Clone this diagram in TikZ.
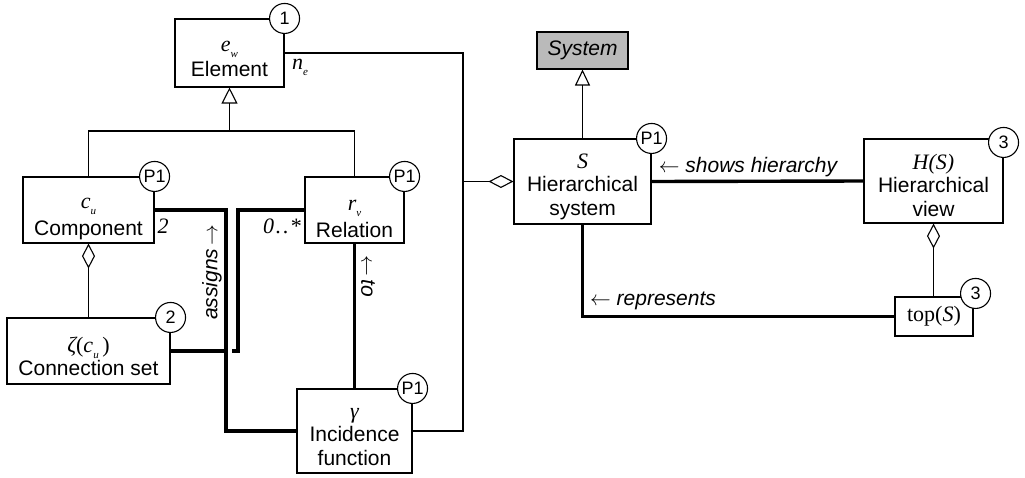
\documentclass[tikz,border=0pt]{standalone}
\usepackage{fontspec}
\setsansfont{Liberation Sans}
\newfontfamily\lserif{Liberation Serif}
\usetikzlibrary{arrows.meta}
\newcommand\vsub[2]{{\lserif\itshape\fontsize{22}{25}\selectfont #1}\raisebox{-6pt}{\lserif\itshape\fontsize{11}{11}\selectfont #2}}
\newcommand\vit[1]{{\lserif\itshape\fontsize{22}{25}\selectfont #1}}
\begin{document}
\begin{tikzpicture}[x=1pt,y=-1pt,
  box/.style={draw,line width=1.1pt,fill=white,inner sep=0pt},
  txt/.style={align=center,inner sep=0pt,font=\sffamily\fontsize{21}{24}\selectfont},
  badge/.style={draw,circle,line width=1.1pt,fill=white,minimum size=30pt,inner sep=0pt,
    font=\sffamily\fontsize{18}{18}\selectfont},
  thinl/.style={line width=1.1pt},
  thickl/.style={line width=3.4pt},
  lbl/.style={font=\sffamily\itshape\fontsize{21}{25}\selectfont,inner sep=0pt},
  mult/.style={font=\lserif\itshape\fontsize{22}{25}\selectfont,inner sep=0pt},
  gen/.style={-{Triangle[open,length=16pt,width=16pt]}},
  agg/.style={{Diamond[open,length=25pt,width=13pt]}-}
]
\useasboundingbox (0,0) rectangle (1025,477);

% boxes
\node[box,minimum width=109pt,minimum height=68pt] (El) at (229.5,53) {};
\node[box,minimum width=131pt,minimum height=66pt] (Co) at (88.5,210) {};
\node[box,minimum width=99pt,minimum height=66pt] (Re) at (354.5,210) {};
\node[box,minimum width=163pt,minimum height=66pt] (Cs) at (88.5,351) {};
\node[box,minimum width=115pt,minimum height=84pt] (In) at (354.5,431) {};
\node[box,fill=black!27,minimum width=91pt,minimum height=37pt] (Sy) at (582.5,50.5) {};
\node[box,minimum width=137pt,minimum height=85pt] (HS) at (582.5,181.5) {};
\node[box,minimum width=139pt,minimum height=84pt] (HV) at (933.5,181) {};
\node[box,minimum width=78pt,minimum height=39pt] (Tp) at (934,316.5) {};

% box texts
\node[txt] (Elt) at ([yshift=-6pt]El.center) {\vsub{e}{w}\\[1pt]Element};
\node[txt] (Cot) at ([yshift=-9pt]Co.center) {\vsub{c}{u}\\[3pt]Component};
\node[txt] (Ret) at ([yshift=-9pt]Re.center) {\vsub{r}{v}\\[3pt]Relation};
\node[txt] (Cst) at ([yshift=-5pt]Cs.center) {\vit{ζ}{\lserif\fontsize{22}{25}\selectfont(}\vsub{c}{u}{\lserif\fontsize{22}{25}\selectfont\,)}\\[-1pt]Connection set};
\node[txt] (Int) at ([yshift=-6pt]In.center) {\vit{γ}\\[-1pt]Incidence\\function};
\node[txt] (Syt) at (Sy.center) {\itshape System};
\node[txt] (HSt) at ([yshift=-5.5pt]HS.center) {\vit{S}\\[-1pt]Hierarchical\\system};
\node[txt] (HVt) at ([yshift=-4pt]HV.center) {\vit{H(S)}\\[-1pt]Hierarchical\\view};
\node[txt,font=\lserif\fontsize{22}{25}\selectfont] (Tpt) at (Tp.center) {top(\textit{S})};

% generalisations
\coordinate (g) at (229.5,131);
\draw[thinl] (Co.north) |- (g) -| (Re.north);
\draw[thinl,gen] (g) -- (El.south);
\draw[thinl,-{Triangle[open,length=16pt,width=15pt]}] (HS.north) -- (Sy.south);

% aggregations
\draw[thinl,agg] (Co.south) -- (Cs.north);
\draw[thinl,agg] (HV.south) -- (HV.south |- Tp.north);
\coordinate (j) at (463,181.5);
\draw[thinl] (El.east) -| (j) |- (In.east);
\draw[thinl,agg] (HS.west) -- (j);

% associations
\coordinate (a1) at (226,300);
\coordinate (a2) at (238,280);
\draw[thickl] (Cs.east) -| (a2) |- (Re.west);
\draw[white,line width=8pt] (227.5,345) -- (227.5,357);
\draw[thickl] (Co.east) -| (a1) |- (In.west);
\draw[thickl] (Re.south) -- (In.north);
\draw[thickl] (HS.east) -- (HV.west);
\draw[thickl] (HS.south) |- (Tp.west);

% labels
\node[lbl] (lsh) at (748,167) {$\leftarrow$ shows hierarchy};
\node[lbl] (lrep) at (653,301) {$\leftarrow$ represents};
\node[lbl,rotate=90] (las) at (212,272) {assigns\,$\rightarrow$};
\node[lbl,rotate=-90] (lto) at (368,276) {$\leftarrow$\,to};
\node[mult] (m2) at (163,226) {2};
\node[mult] (m0) at (282,226) {0\kern2pt.\kern2pt.\kern1pt*};
\node[inner sep=0pt] (ne) at (300,67) {\vsub{n}{e}};

% badges
\node[badge] (b1) at (El.north east) {1};
\node[badge] (b2) at (Co.north east) {P1};
\node[badge] (b3) at (Re.north east) {P1};
\node[badge] (b4) at (Cs.north east) {2};
\node[badge] (b5) at (In.north east) {P1};
\node[badge] (b6) at (HS.north east) {P1};
\node[badge] (b7) at ([yshift=-4pt]HV.north east) {3};
\node[badge] (b8) at ([xshift=2pt,yshift=3pt]Tp.north east) {3};
\end{tikzpicture}
\end{document}
